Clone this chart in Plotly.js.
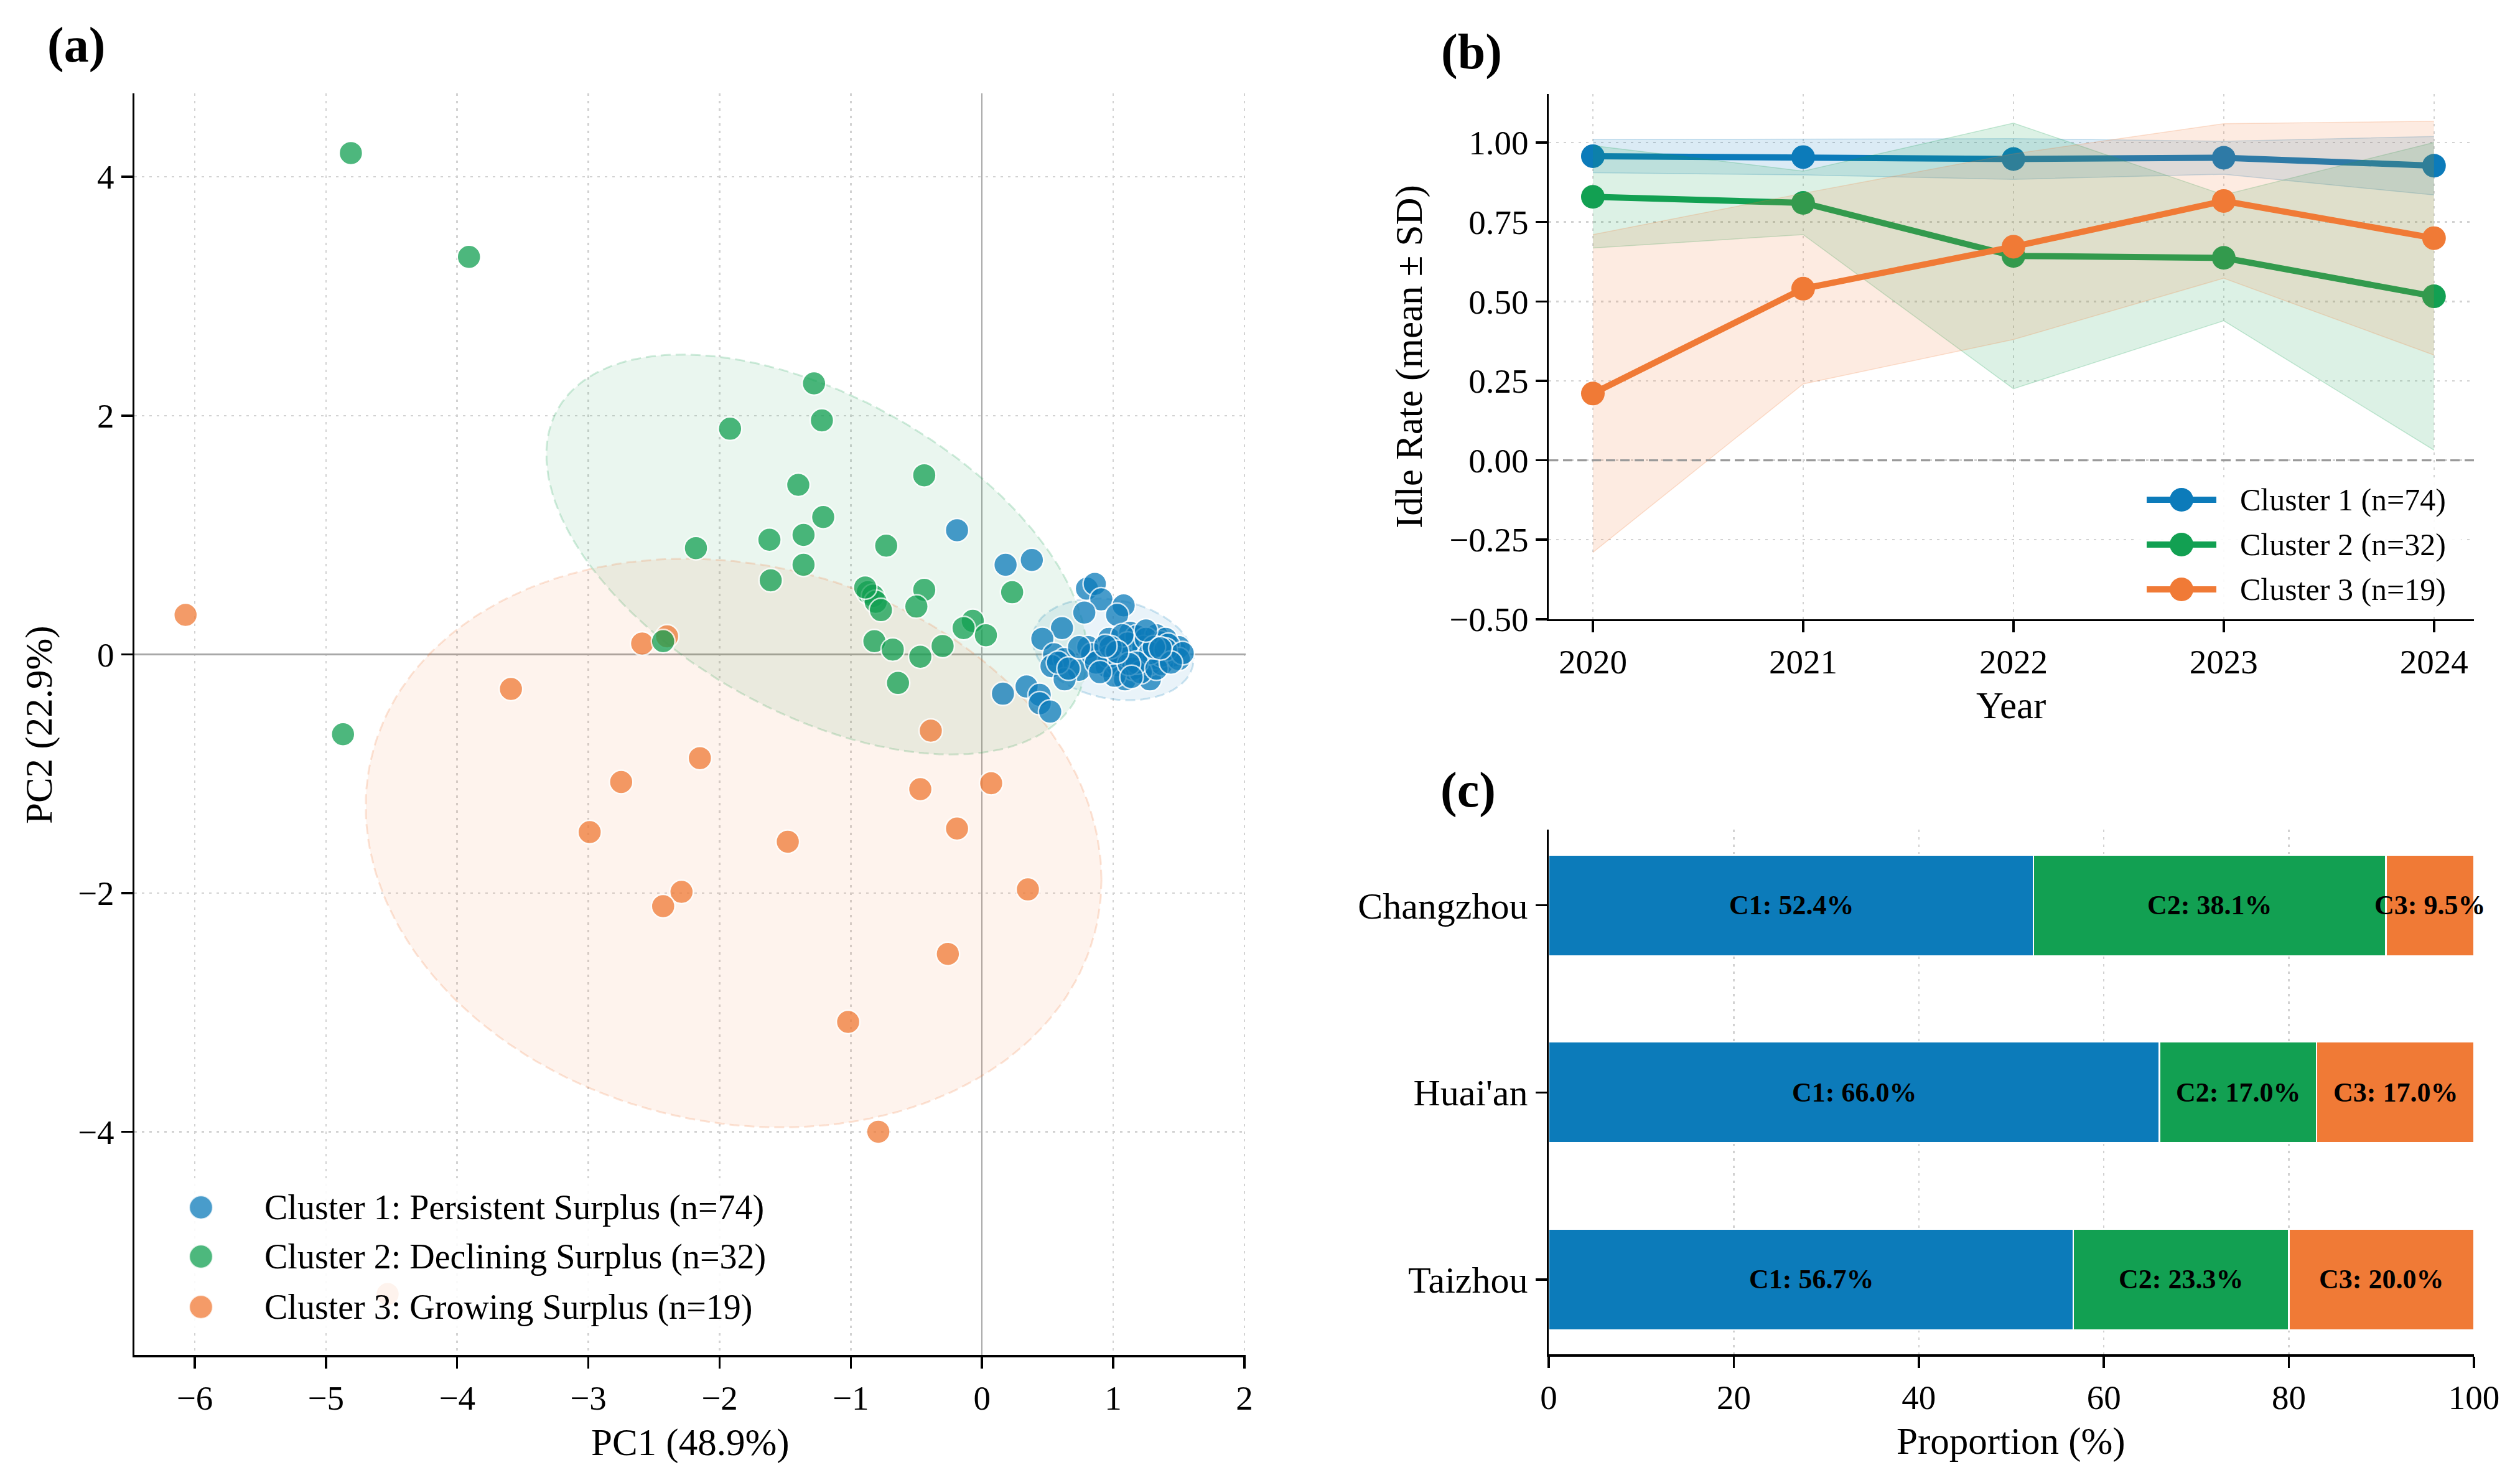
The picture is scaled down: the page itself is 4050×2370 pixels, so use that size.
<!DOCTYPE html>
<html>
<head>
<meta charset="utf-8">
<script src="https://cdn.plot.ly/plotly-3.0.1.min.js"></script>
<style>html,body{margin:0;padding:0;background:#fff;}</style>
</head>
<body>
<div id="chart" style="width:4050px;height:2370px;"></div>
<script>
// ---------------- Panel (a): PCA scores per cluster ----------------
const c1x = [-0.19,0.18,0.38,0.80,0.86,0.91,1.08,1.03,0.78,0.61,0.46,0.55,0.63,0.53,0.74,0.63,0.16,0.34,0.44,0.44,
             0.52,0.81,0.84,0.97,0.95,1.03,1.09,1.13,1.18,1.15,1.20,1.28,1.33,1.36,1.36,1.46,1.28,1.21,1.06,0.97,
             0.87,1.47,1.23,1.11,1.31,1.37,1.15,1.50,0.58,0.66,1.01,1.21,0.74,1.25,1.40,1.07,1.37,1.28,1.42,1.50,
             1.18,1.40,1.53,0.98,1.33,0.90,1.12,1.31,1.03,1.44,1.14,0.94,1.25,1.36];
const c1y = [1.04,0.75,0.79,0.55,0.59,0.46,0.41,0.33,0.35,0.22,0.13,0.00,-0.04,-0.10,-0.13,-0.21,-0.33,-0.27,-0.34,-0.41,
             -0.48,0.06,0.00,0.13,-0.10,-0.09,-0.21,0.18,0.15,0.02,-0.11,-0.21,0.16,0.10,0.02,-0.01,-0.08,-0.01,-0.01,-0.02,
             -0.07,0.03,0.06,0.09,-0.03,-0.08,-0.12,0.06,-0.07,-0.12,-0.18,-0.15,0.06,0.13,0.13,0.16,-0.01,0.01,0.08,-0.04,
             -0.07,0.04,0.01,0.06,-0.12,-0.15,-0.08,0.06,0.02,-0.07,-0.19,0.07,0.20,0.05];
const c2x = [-4.81,-3.91,-1.28,-1.22,-1.92,-0.44,-1.40,-1.21,-1.62,-1.36,-0.73,-2.18,-1.36,-1.61,0.23,-0.87,
             -0.83,-0.81,-0.77,-0.89,-0.44,-0.50,-0.07,-0.14,0.03,-0.82,-0.68,-0.47,-0.30,-0.64,-2.43,-4.87];
const c2y = [4.20,3.33,2.27,1.96,1.89,1.50,1.42,1.15,0.96,1.00,0.91,0.89,0.75,0.62,0.52,0.52,
             0.49,0.44,0.37,0.56,0.54,0.40,0.28,0.22,0.16,0.11,0.04,-0.02,0.07,-0.24,0.11,-0.67];
const c3x = [-6.07,-2.59,-2.40,-3.59,-0.39,-2.15,-2.75,-0.47,0.07,-2.99,-1.48,-0.19,0.35,-2.29,-2.43,-0.26,-1.02,-0.79,-4.53];
const c3y = [0.33,0.09,0.15,-0.29,-0.64,-0.87,-1.07,-1.13,-1.08,-1.49,-1.57,-1.46,-1.97,-1.99,-2.11,-2.51,-3.08,-4.00,-5.36];
const scatterNames = ['Cluster 1: Persistent Surplus (n=74)', 'Cluster 2: Declining Surplus (n=32)', 'Cluster 3: Growing Surplus (n=19)'];

// ---------------- Panel (b): idle rate trajectories ----------------
const years = [2020, 2021, 2022, 2023, 2024];
const c1Mean = [0.957, 0.954, 0.948, 0.952, 0.927];
const c1Sd   = [0.052, 0.056, 0.064, 0.052, 0.092];
const c2Mean = [0.829, 0.810, 0.643, 0.637, 0.516];
const c2Sd   = [0.161, 0.100, 0.418, 0.198, 0.484];
const c3Mean = [0.210, 0.540, 0.672, 0.816, 0.699];
const c3Sd   = [0.500, 0.300, 0.292, 0.243, 0.368];
const lineNames = ['Cluster 1 (n=74)', 'Cluster 2 (n=32)', 'Cluster 3 (n=19)'];
const yTicksB = [-0.50, -0.25, 0.00, 0.25, 0.50, 0.75, 1.00];

// ---------------- Panel (c): cluster composition by city ----------------
const cities = ['Taizhou', "Huai'an", 'Changzhou'];
const shareC1 = [56.7, 66.0, 52.4];
const shareC2 = [23.3, 17.0, 38.1];
const shareC3 = [20.0, 17.0, 9.5];

// ---------------- styling ----------------
const W = 4050, H = 2370;
const FONT = 'Liberation Serif';
const RGB = [[12,123,186],[18,160,82],[240,122,54]];
const col = (i, a) => a === undefined ? `rgb(${RGB[i].join(',')})` : `rgba(${RGB[i].join(',')},${a})`;
const px = x => x / W;
const py = y => 1 - y / H;

const mean = a => a.reduce((s, v) => s + v, 0) / a.length;

// covariance ellipse around a cluster's centroid
function ellipse(xs, ys, nStd) {
  const n = xs.length, mx = mean(xs), my = mean(ys);
  let sxx = 0, syy = 0, sxy = 0;
  for (let i = 0; i < n; i++) {
    const dx = xs[i] - mx, dy = ys[i] - my;
    sxx += dx * dx; syy += dy * dy; sxy += dx * dy;
  }
  sxx /= (n - 1); syy /= (n - 1); sxy /= (n - 1);
  const a = Math.sqrt(sxx), b = sxy / a, c = Math.sqrt(Math.max(syy - b * b, 0));
  const ex = [], ey = [];
  for (let k = 0; k <= 200; k++) {
    const t = 2 * Math.PI * k / 200;
    ex.push(mx + nStd * a * Math.cos(t));
    ey.push(my + nStd * (b * Math.cos(t) + c * Math.sin(t)));
  }
  return [ex, ey];
}

const clusters = [[c1x, c1y], [c2x, c2y], [c3x, c3y]];
const traces = [];

// ellipses
clusters.forEach((cl, i) => {
  const [ex, ey] = ellipse(cl[0], cl[1], 1.66);
  traces.push({
    type: 'scatter', mode: 'lines', x: ex, y: ey, xaxis: 'x', yaxis: 'y',
    fill: 'toself', fillcolor: col(i, 0.09),
    line: {color: col(i, 0.2), width: 3, dash: '16px,8px'},
    hoverinfo: 'skip', showlegend: false
  });
});
// points: cluster 3 first, then 2, then 1 on top
[2, 1, 0].forEach(i => {
  traces.push({
    type: 'scatter', mode: 'markers', x: clusters[i][0], y: clusters[i][1], xaxis: 'x', yaxis: 'y',
    name: scatterNames[i],
    marker: {size: 38, color: col(i), opacity: 0.75, line: {color: 'white', width: 2.5}},
    showlegend: false
  });
});

// bands and mean lines
[[c1Mean, c1Sd], [c2Mean, c2Sd], [c3Mean, c3Sd]].forEach((s, i) => {
  const lo = s[0].map((m, k) => m - s[1][k]);
  const hi = s[0].map((m, k) => m + s[1][k]);
  traces.push({type: 'scatter', mode: 'lines', x: years, y: lo, xaxis: 'x2', yaxis: 'y2',
    line: {color: col(i, 0.22), width: 1.5}, hoverinfo: 'skip', showlegend: false});
  traces.push({type: 'scatter', mode: 'lines', x: years, y: hi, xaxis: 'x2', yaxis: 'y2',
    fill: 'tonexty', fillcolor: col(i, 0.15),
    line: {color: col(i, 0.22), width: 1.5}, hoverinfo: 'skip', showlegend: false});
  traces.push({type: 'scatter', mode: 'lines+markers', x: years, y: s[0], xaxis: 'x2', yaxis: 'y2',
    name: lineNames[i], line: {color: col(i), width: 10}, marker: {size: 38, color: col(i)}, showlegend: false});
});

// stacked bars
[shareC1, shareC2, shareC3].forEach((v, i) => {
  traces.push({type: 'bar', orientation: 'h', x: v, y: cities, xaxis: 'x3', yaxis: 'y3',
    width: 0.54, marker: {color: col(i), line: {color: 'white', width: 2.5}},
    name: 'C' + (i + 1), showlegend: false});
});

const tickFont = {family: FONT, size: 55, color: '#000'};
const baseAxis = {
  showline: true, linecolor: '#000', linewidth: 3.5,
  ticks: 'outside', ticklen: 18, tickwidth: 3.5, tickcolor: '#000',
  tickfont: tickFont, showgrid: true, gridcolor: '#d2d2d2', gridwidth: 2.5, griddash: '4px,8px',
  zeroline: false, mirror: false
};

const annotations = [];
const shapes = [];

// panel letters
[['(a)', 122, 72], ['(b)', 2365, 84], ['(c)', 2359, 1269]].forEach(p => {
  annotations.push({text: '<b>' + p[0] + '</b>', xref: 'paper', yref: 'paper', x: px(p[1]), y: py(p[2]),
    xanchor: 'center', yanchor: 'middle', showarrow: false, font: {family: FONT, size: 80, color: '#000'}});
});
// axis titles
const titleFont = {family: FONT, size: 61, color: '#000'};
[['PC1 (48.9%)', 1109, 2318, 0], ['PC2 (22.9%)', 63, 1165, -90],
 ['Year', 3232, 1133, 0], ['Idle Rate (mean ± SD)', 2265, 573, -90],
 ['Proportion (%)', 3232, 2316, 0]].forEach(t => {
  annotations.push({text: t[0], xref: 'paper', yref: 'paper', x: px(t[1]), y: py(t[2]),
    xanchor: 'center', yanchor: 'middle', textangle: t[3], showarrow: false, font: titleFont});
});

// bar segment labels
cities.forEach((c, k) => {
  const segs = [shareC1[k], shareC2[k], shareC3[k]];
  let start = 0;
  segs.forEach((v, i) => {
    annotations.push({text: `<b>C${i + 1}: ${v.toFixed(1)}%</b>`, xref: 'x3', yref: 'y3',
      x: start + v / 2, y: k, xanchor: 'center', yanchor: 'middle', showarrow: false,
      font: {family: FONT, size: 44, color: '#000'}});
    start += v;
  });
});

// dashed zero reference in panel (b)
shapes.push({type: 'line', xref: 'x2 domain', yref: 'y2', x0: 0, x1: 1, y0: 0, y1: 0,
  line: {color: '#9a9a9a', width: 3.3, dash: '15px,8px'}, layer: 'above'});

// legend for panel (a)
shapes.push({type: 'rect', xref: 'paper', yref: 'paper', x0: px(244), x1: px(1255), y0: py(2140), y1: py(1893),
  fillcolor: 'rgba(255,255,255,0.88)', line: {width: 0}, layer: 'above'});
[1940, 2019, 2100].forEach((yy, i) => {
  shapes.push({type: 'circle', xref: 'paper', yref: 'paper', xsizemode: 'pixel', ysizemode: 'pixel',
    xanchor: px(323), yanchor: py(yy), x0: -19, x1: 19, y0: -19, y1: 19,
    fillcolor: col(i, 0.75), line: {color: 'rgba(255,255,255,0.8)', width: 2.5}, layer: 'above'});
  annotations.push({text: scatterNames[i], xref: 'paper', yref: 'paper', x: px(423), y: py(yy),
    xanchor: 'left', yanchor: 'middle', showarrow: false, font: {family: FONT, size: 56, color: '#000'}});
});

// legend for panel (b)
shapes.push({type: 'rect', xref: 'paper', yref: 'paper', x0: px(3437), x1: px(3956), y0: py(990), y1: py(770),
  fillcolor: 'rgba(255,255,255,0.9)', line: {width: 0}, layer: 'above'});
[803, 875, 947].forEach((yy, i) => {
  shapes.push({type: 'line', xref: 'paper', yref: 'paper', x0: px(3450), x1: px(3562), y0: py(yy), y1: py(yy),
    line: {color: col(i), width: 10}, layer: 'above'});
  shapes.push({type: 'circle', xref: 'paper', yref: 'paper', xsizemode: 'pixel', ysizemode: 'pixel',
    xanchor: px(3506), yanchor: py(yy), x0: -19, x1: 19, y0: -19, y1: 19,
    fillcolor: col(i), line: {width: 0}, layer: 'above'});
  annotations.push({text: lineNames[i], xref: 'paper', yref: 'paper', x: px(3598), y: py(yy),
    xanchor: 'left', yanchor: 'middle', showarrow: false, font: {family: FONT, size: 50, color: '#000'}});
});

const layout = {
  width: W, height: H, margin: {l: 0, r: 0, t: 0, b: 0},
  paper_bgcolor: 'white', plot_bgcolor: 'white',
  showlegend: false, barmode: 'stack',
  font: {family: FONT, color: '#000'},
  xaxis: Object.assign({}, baseAxis, {domain: [px(216), px(2002)], range: [-6.46, 2.01], dtick: 1, tick0: 0,
    anchor: 'y', zeroline: true, zerolinecolor: '#a8a8a8', zerolinewidth: 2.5}),
  yaxis: Object.assign({}, baseAxis, {domain: [py(2177), py(150)], range: [-5.87, 4.70], dtick: 2, tick0: 0,
    anchor: 'x', zeroline: true, zerolinecolor: '#a8a8a8', zerolinewidth: 2.5}),
  xaxis2: Object.assign({}, baseAxis, {domain: [px(2489), px(3976)], range: [2019.79, 2024.19],
    tickvals: years, ticktext: years.map(String), anchor: 'y2'}),
  yaxis2: Object.assign({}, baseAxis, {domain: [py(994.9), py(150.8)], range: [-0.5, 1.153],
    tickvals: yTicksB, tickformat: '.2f', anchor: 'x2'}),
  xaxis3: Object.assign({}, baseAxis, {domain: [px(2489), px(3976)], range: [0, 100], dtick: 20, tick0: 0, anchor: 'y3'}),
  yaxis3: Object.assign({}, baseAxis, {domain: [py(2176), py(1333)], range: [-0.4, 2.405], type: 'category',
    categoryorder: 'array', categoryarray: cities, showgrid: false, anchor: 'x3', layer: 'below traces',
    tickfont: {family: FONT, size: 60, color: '#000'}}),
  annotations: annotations,
  shapes: shapes
};

Plotly.newPlot('chart', traces, layout, {displayModeBar: false, staticPlot: true});
</script>
</body>
</html>
